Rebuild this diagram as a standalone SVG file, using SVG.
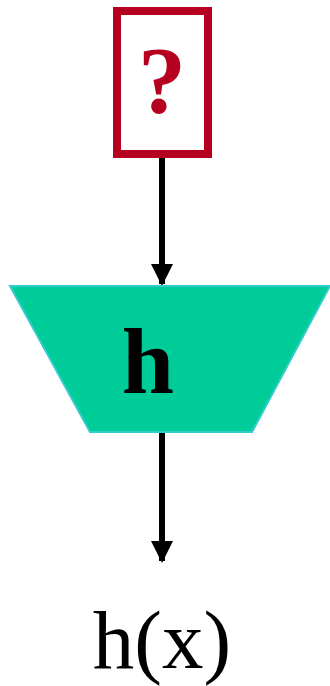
<svg xmlns="http://www.w3.org/2000/svg" width="330" height="686" viewBox="0 0 330 686">
<style>
.conn{stroke:#000;stroke-width:6;fill:none}
.lbl{font-family:"Liberation Serif","Times New Roman",serif}
</style>
<defs>
<marker id="ah" markerUnits="userSpaceOnUse" markerWidth="22" markerHeight="22" refX="20" refY="11" orient="auto" viewBox="0 0 22 22">
<path d="M0,0 L22,11 L0,22 Z" fill="#000"/>
</marker>
</defs>
<rect width="330" height="686" fill="#fff"/>
<g id="connectors">
<line class="conn" x1="162" y1="157" x2="162" y2="284" marker-end="url(#ah)"/>
<line class="conn" x1="162" y1="432" x2="162" y2="561" marker-end="url(#ah)"/>
</g>
<g id="input">
<rect x="117" y="11" width="91" height="143" fill="#fff" stroke="#B5001F" stroke-width="8"/>
<text class="lbl" x="162" y="113" text-anchor="middle" font-size="96" font-weight="bold" fill="#B5001F">?</text>
</g>
<g id="h">
<polygon points="10,286 330,286 252,432 90,432" fill="#00CC99" stroke="#33CCCC" stroke-width="2"/>
<text class="lbl" x="148" y="393" text-anchor="middle" font-size="94" font-weight="bold" fill="#000">h</text>
</g>
<g id="output">
<text class="lbl" x="162" y="668" text-anchor="middle" font-size="83" fill="#000">h(x)</text>
</g>
</svg>
